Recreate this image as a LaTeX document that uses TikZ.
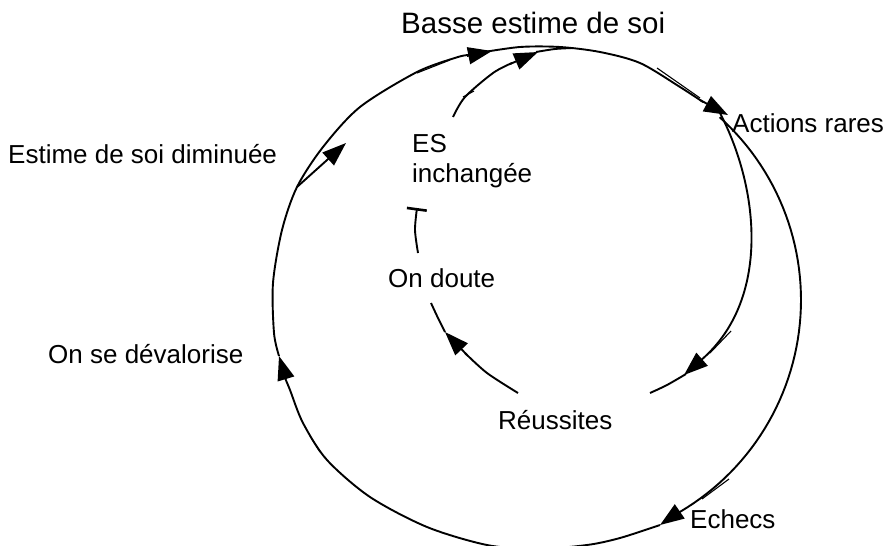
\documentclass[tikz,border=0pt]{standalone}
\usepackage{fontspec}
\setmainfont{Liberation Sans}
\usetikzlibrary{arrows.meta}
\tikzset{
  lbl/.style={inner sep=0pt, anchor=base west, font=\fontsize{26pt}{30pt}\selectfont},
  big/.style={inner sep=0pt, anchor=base west, font=\fontsize{29.5pt}{34pt}\selectfont},
  ln/.style={line width=1.9pt, black},
  thin/.style={line width=1.1pt, black},
  arr/.style={ln, -{Triangle[length=24pt,width=17pt]}},
  inh/.style={ln, -{Bar[width=20pt,line width=2.6pt]}}
}
\begin{document}
\begin{tikzpicture}[x=1pt,y=-1pt]
\useasboundingbox (0,0) rectangle (884,546);
% labels
\node[big] (basse) at (401,33) {Basse estime de soi};
\node[lbl] (actions) at (732,132) {Actions rares};
\node[lbl] (diminuee) at (8,163) {Estime de soi diminuée};
\node[lbl] (es1) at (412,152) {ES};
\node[lbl] (es2) at (412,182) {inchangée};
\node[lbl] (doute) at (388,287) {On doute};
\node[lbl] (devalorise) at (48,363) {On se dévalorise};
\node[lbl] (reussites) at (498,429) {Réussites};
\node[lbl] (echecs) at (690,528) {Echecs};
% key points
\coordinate (pBasse) at (492,51);
\coordinate (pAct) at (728,115);
\coordinate (pEch) at (660,525);
\coordinate (pDev) at (279,356);
\coordinate (pDim) at (297,187);
\coordinate (pDimTip) at (346,143);
\coordinate (pReuss) at (684,375);
\coordinate (pDoute) at (445,332);
\coordinate (pES) at (538,52);
\coordinate (pInStart) at (720,113);
% outer loop
\draw[ln] plot[smooth] coordinates {(478,53) (520,47) (560,47) (600,52) (640,63) (680,87) (703,102)};
\draw[arr] (700,100) -- (pAct);
\draw[ln] plot[domain=-48:61, samples=60] ({555+246*cos(\x)},{300+246*sin(\x)});
\draw[arr] ({555+246*cos(61)},{300+246*sin(61)}) -- (pEch);
\draw[ln] plot[smooth] coordinates {(660,525) (620,538) (587,545) (537,549) (487,545) (427,527) (370,497) (327,460) (303,423) (290,390) (285,378)};
\draw[arr] (286,379) -- (pDev);
\draw[ln] plot[smooth] coordinates {(279,356) (274,333) (273,283) (282,230) (297,187) (323,147) (360,107) (417,72) (458,57) (470,55)};
\draw[arr] (467,56) -- (pBasse);
\draw[arr] (pDim) -- (pDimTip);
% inner loop
\draw[arr] (pInStart) .. controls (760,190) and (770,300) .. (pReuss);
\draw[ln] plot[smooth] coordinates {(686,374) (667,385) (650,393)};
\draw[ln] plot[smooth] coordinates {(518,393) (487,373) (465,353)};
\draw[arr] (467,355) -- (pDoute);
\draw[ln] plot[smooth] coordinates {(445,332) (438,318) (431,303)};
\draw[inh] plot[smooth] coordinates {(418,253) (415,230) (417,208)};
\draw[ln] plot[smooth] coordinates {(453,117) (465,97) (493,73) (512,63)};
\draw[arr] (510,64) -- (pES);
\draw[ln] plot[smooth] coordinates {(536,52) (555,49) (573,48)};
% overlap ticks
\draw[thin] (310,436) -- (320,452);
\draw[thin] (729,479) -- (702,499);
\draw[thin] (731,331) -- (710,353);
\draw[thin] (657,68) -- (700,98);
\draw[thin] (417,73) -- (450,60);
\draw[thin] (463,97) -- (474,91);
\end{tikzpicture}
\end{document}
